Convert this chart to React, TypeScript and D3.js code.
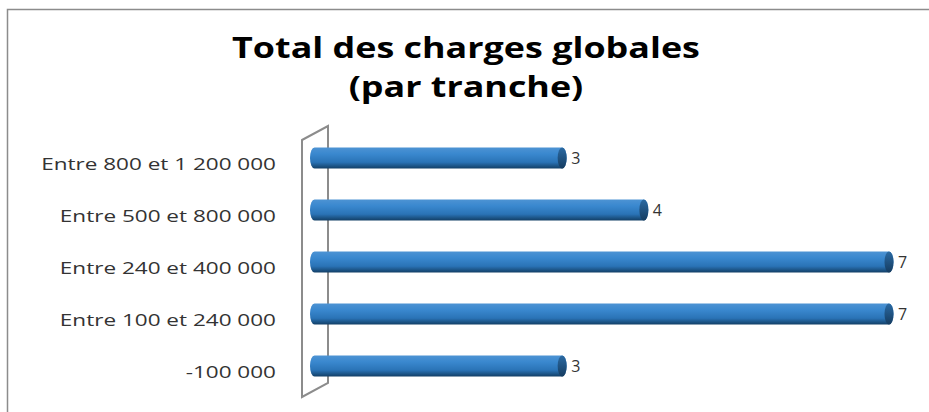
import React, { useEffect, useRef } from "react";
import * as d3 from "d3";

const categories = [
  "Entre 800 et 1 200 000",
  "Entre 500 et 800 000",
  "Entre 240 et 400 000",
  "Entre 100 et 240 000",
  "-100 000",
];
const values = [3, 4, 7, 7, 3];
const titleLines = ["Total des charges globales", "(par tranche)"];

export default function App() {
  const ref = useRef<SVGSVGElement>(null);

  useEffect(() => {
    const W = 929;
    const H = 412;
    const svg = d3.select(ref.current).html("");
    svg.attr("width", W).attr("height", H);

    const font = "'Open Sans', Lato, sans-serif";

    // frame
    svg.append("rect").attr("x", 7.5).attr("y", 9.5).attr("width", 940).attr("height", 420)
      .attr("fill", "#fff").attr("stroke", "#8c8c8c").attr("stroke-width", 1.5);

    const defs = svg.append("defs");
    const grad = defs.append("linearGradient").attr("id", "cyl").attr("x1", 0).attr("y1", 0).attr("x2", 0).attr("y2", 1);
    grad.append("stop").attr("offset", "0%").attr("stop-color", "#4d93d3");
    grad.append("stop").attr("offset", "30%").attr("stop-color", "#3a88cf");
    grad.append("stop").attr("offset", "70%").attr("stop-color", "#2a73b6");
    grad.append("stop").attr("offset", "100%").attr("stop-color", "#123f66");

    const capGrad = defs.append("linearGradient").attr("id", "cap").attr("x1", 0).attr("y1", 0).attr("x2", 0).attr("y2", 1);
    capGrad.append("stop").attr("offset", "0%").attr("stop-color", "#2b6aa3");
    capGrad.append("stop").attr("offset", "100%").attr("stop-color", "#153c60");

    // title, stretched horizontally like the source
    const title = svg.append("g");
    const tt = title.append("text").attr("text-anchor", "middle")
      .style("font-family", font).style("font-weight", "bold").style("font-size", "29px").attr("fill", "#000");
    tt.selectAll("tspan").data(titleLines).enter().append("tspan")
      .attr("x", 0).attr("y", (d, i) => 58 + i * 39).text((d) => d);
    const firstW = (tt.select("tspan").node() as SVGTSpanElement).getComputedTextLength();
    const tsx = firstW > 0 ? 468 / firstW : 1;
    title.attr("transform", `translate(466,0) scale(${tsx},1)`);

    const x = d3.scaleLinear().domain([0, 7]).range([317, 889]);
    const y = d3.scaleBand().domain(categories).range([132, 392]).paddingInner(0.6).paddingOuter(0.3);

    // wall
    svg.append("path")
      .attr("d", "M302,140 L328,126 L328,383 L302,397 Z")
      .attr("fill", "#fff").attr("stroke", "#8c8c8c").attr("stroke-width", 2);

    const bh = 21;
    const rx = 4.5;
    const g = svg.append("g");
    const bars = g.selectAll("g.bar").data(categories).enter().append("g").attr("class", "bar");
    bars.append("path")
      .attr("d", (d, i) => {
        const cy = (y(d) as number) + y.bandwidth() / 2;
        const x0 = 310 + rx;
        const x1 = x(values[i]);
        return `M${x0},${cy - bh / 2} L${x1},${cy - bh / 2} A${rx},${bh / 2} 0 0 1 ${x1},${cy + bh / 2} L${x0},${cy + bh / 2} A${rx},${bh / 2} 0 0 1 ${x0},${cy - bh / 2} Z`;
      })
      .attr("fill", "url(#cyl)");
    bars.append("ellipse")
      .attr("cx", (d, i) => x(values[i]))
      .attr("cy", (d) => (y(d) as number) + y.bandwidth() / 2)
      .attr("rx", rx).attr("ry", bh / 2)
      .attr("fill", "url(#cap)");

    // value labels
    g.selectAll("text.val").data(categories).enter().append("text")
      .attr("class", "val")
      .attr("x", (d, i) => x(values[i]) + 9)
      .attr("y", (d) => (y(d) as number) + y.bandwidth() / 2 + 6)
      .style("font-family", font).style("font-size", "16px").attr("fill", "#333")
      .text((d, i) => values[i]);

    // category labels, same horizontal stretch
    const cat = g.append("g");
    const labels = cat.selectAll("text.cat").data(categories).enter().append("text")
      .attr("class", "cat")
      .attr("x", 0).attr("text-anchor", "end")
      .attr("y", (d) => (y(d) as number) + y.bandwidth() / 2 + 12)
      .style("font-family", font).style("font-size", "16.5px").attr("fill", "#333")
      .text((d) => d);
    const lw = (labels.node() as SVGTextElement).getComputedTextLength();
    const lsx = lw > 0 ? 235 / lw : 1;
    cat.attr("transform", `translate(276,0) scale(${lsx},1)`);
  }, []);

  return (
    <div style={{ position: "absolute", left: 0, top: 0 }}>
      <svg ref={ref} style={{ display: "block" }} />
    </div>
  );
}
